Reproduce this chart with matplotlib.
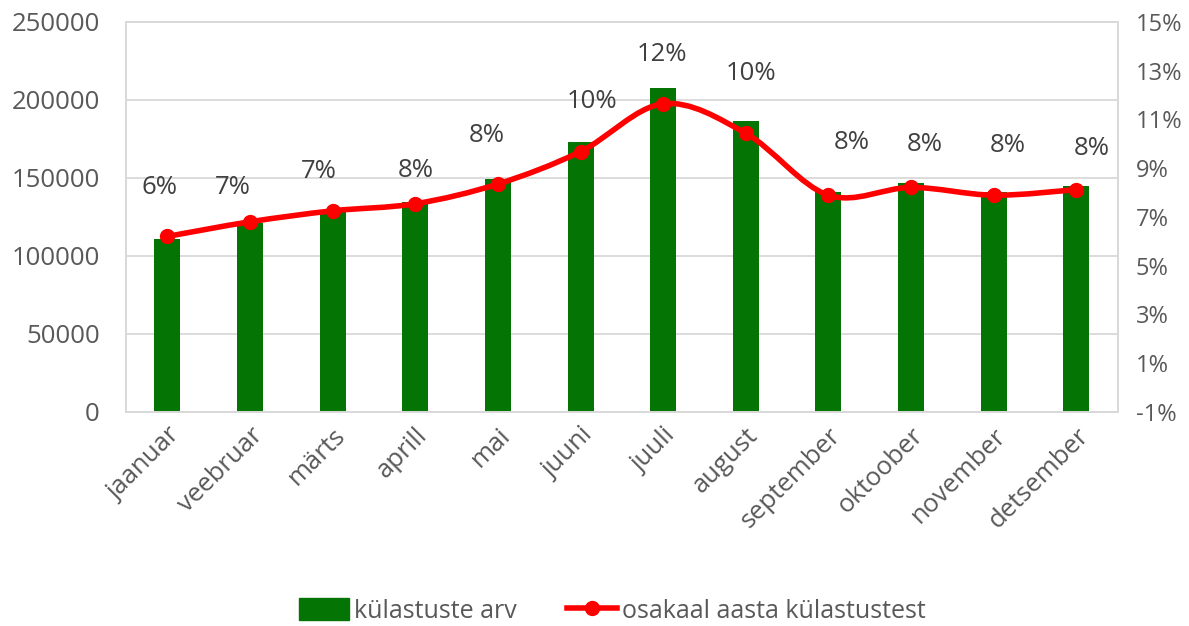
import matplotlib
matplotlib.use('Agg')
import matplotlib.pyplot as plt
from matplotlib.path import Path
from matplotlib.patches import PathPatch, Patch
from matplotlib.lines import Line2D
from matplotlib.ticker import FuncFormatter

plt.rcParams['font.family'] = ['Open Sans', 'DejaVu Sans']

months = ['jaanuar', 'veebruar', 'märts', 'aprill', 'mai', 'juuni',
          'juuli', 'august', 'september', 'oktoober', 'november', 'detsember']
visits = [110700, 121400, 129500, 134600, 149200, 172900,
          207900, 186300, 140800, 146600, 140800, 144900]
share = [0.0620, 0.0680, 0.0725, 0.0754, 0.0835, 0.0968,
         0.1164, 0.1043, 0.0789, 0.0821, 0.0789, 0.0812]
share_labels = ['6%', '7%', '7%', '8%', '8%', '10%', '12%', '10%', '8%', '8%', '8%', '8%']

# label offsets (pixels) as placed by hand in the original
label_dx = [-8, -17, -14, 0, -11, 11, -1, 5, 23, 14, 14, 15]
label_dy = [49, 34, 39, 33, 49, 50, 49, 60, 53, 43, 50, 41]

green = '#047404'
red = '#FF0000'
grey = '#595959'
grid = '#D9D9D9'

fig = plt.figure(figsize=(11.89, 6.26), dpi=100)
ax1 = fig.add_axes([0.106, 0.342, 0.834, 0.623])
ax2 = ax1.twinx()

x = list(range(len(months)))
ax1.bar(x, visits, width=0.315, color=green, zorder=2)
ax1.set_xlim(-0.5, len(months) - 0.5)
ax1.set_ylim(0, 250000)
ax1.set_yticks(range(0, 250001, 50000))
ax1.yaxis.grid(True, color=grid, lw=1.3)
ax1.set_axisbelow(True)
ax1.set_xticks(x)
ax1.set_xticklabels(months, rotation=45, ha='right', va='top', rotation_mode='anchor')

ax2.set_ylim(-0.01, 0.15)
ax2.set_yticks([-0.01 + 0.02 * i for i in range(9)])
ax2.yaxis.set_major_formatter(FuncFormatter(lambda v, p: '{:.0f}%'.format(v * 100)))

for ax in (ax1, ax2):
    ax.tick_params(length=0, labelsize=18.5, labelcolor=grey)
    for s in ax.spines.values():
        s.set_color(grid)
        s.set_linewidth(1.3)
ax1.tick_params(axis='y', pad=19)
ax1.tick_params(axis='x', pad=8)
ax2.tick_params(axis='y', pad=13, labelsize=17)

# smoothed line (Excel style) as bezier path through the points
pts = list(zip(x, share))
verts = [pts[0]]
codes = [Path.MOVETO]
for i in range(len(pts) - 1):
    p0 = pts[i - 1] if i > 0 else pts[i]
    p1 = pts[i]
    p2 = pts[i + 1]
    p3 = pts[i + 2] if i + 2 < len(pts) else pts[i + 1]
    c1 = (p1[0] + (p2[0] - p0[0]) / 6, p1[1] + (p2[1] - p0[1]) / 6)
    c2 = (p2[0] - (p3[0] - p1[0]) / 6, p2[1] - (p3[1] - p1[1]) / 6)
    verts += [c1, c2, p2]
    codes += [Path.CURVE4] * 3
ax2.add_patch(PathPatch(Path(verts, codes), fill=False, edgecolor=red, lw=4,
                        capstyle='round', joinstyle='round', zorder=3))
ax2.plot(x, share, 'o', color=red, markersize=10, zorder=4)

for i, lab in enumerate(share_labels):
    ax2.annotate(lab, (x[i], share[i]), xytext=(label_dx[i], label_dy[i]),
                 textcoords='offset pixels', ha='center', va='center',
                 fontsize=18.5, color='#404040')

handles = [Patch(color=green, label='külastuste arv'),
           Line2D([], [], color=red, lw=4, marker='o', markersize=10,
                  label='osakaal aasta külastustest')]
fig.legend(handles=handles, loc='center', bbox_to_anchor=(0.515, 0.024), ncol=2,
           frameon=False, fontsize=18, labelcolor=grey, handlelength=2.0,
           handleheight=1.0, handletextpad=0.2, columnspacing=2.0)

fig.savefig('out.png', dpi=100)
